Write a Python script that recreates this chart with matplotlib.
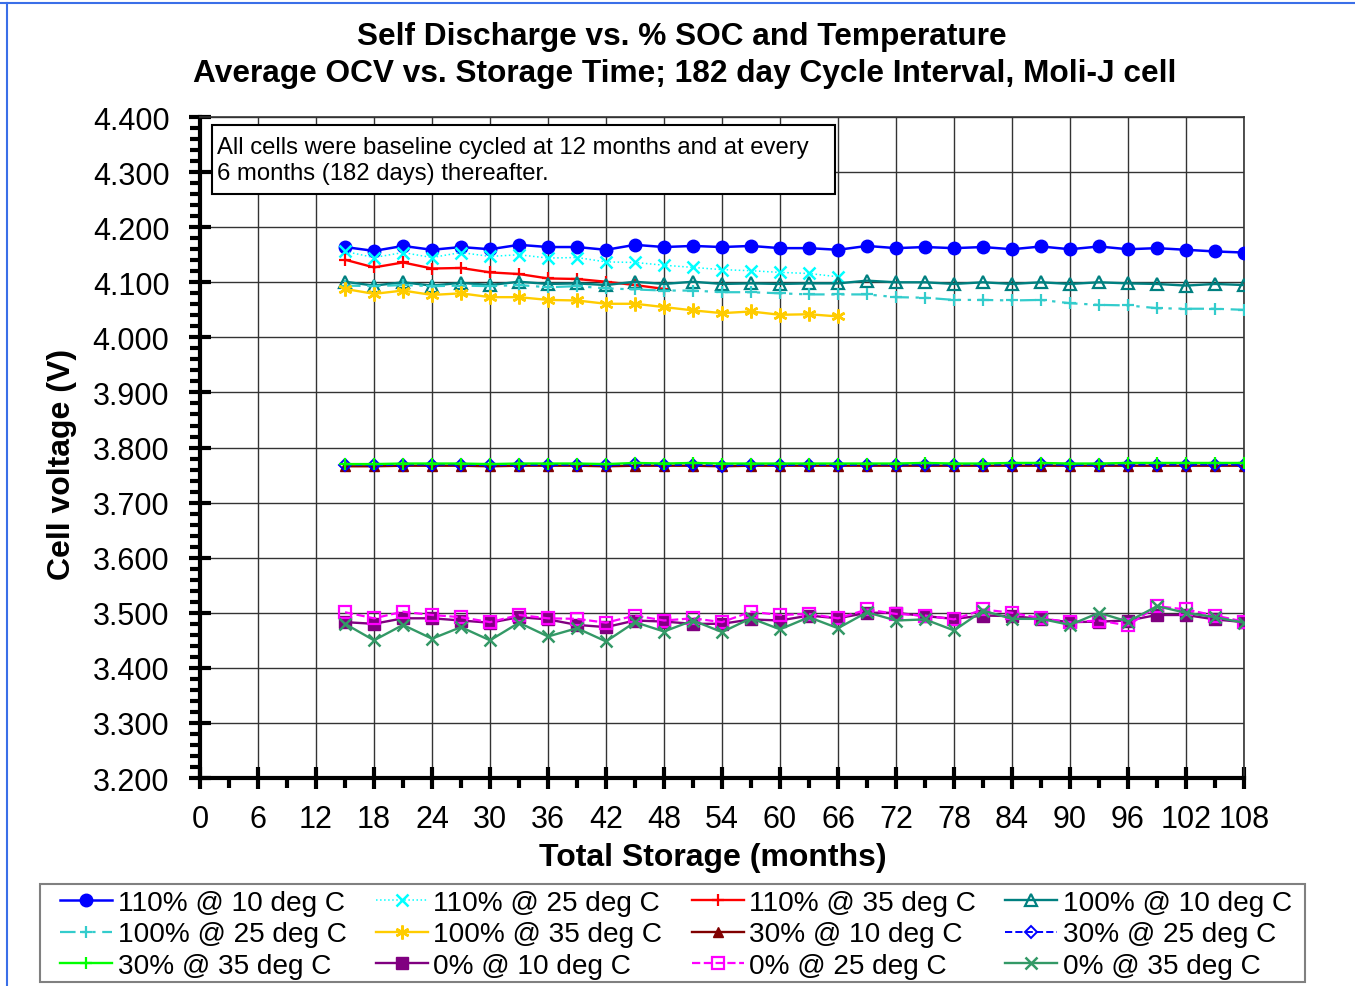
"""
Self discharge vs. % SOC and temperature — Moli-J cell OCV during storage.
"""

import matplotlib
matplotlib.use("Agg")
import matplotlib.pyplot as plt
from matplotlib.lines import Line2D
from matplotlib.patches import Rectangle
from matplotlib.ticker import MultipleLocator, FormatStrFormatter

plt.rcParams["font.family"] = ["Liberation Sans", "DejaVu Sans"]

months = [15, 18, 21, 24, 27, 30, 33, 36, 39, 42, 45, 48, 51, 54, 57, 60,
          63, 66, 69, 72, 75, 78, 81, 84, 87, 90, 93, 96, 99, 102, 105, 108]

soc110_t10 = [4.164, 4.157, 4.166, 4.159, 4.164, 4.160, 4.168, 4.164, 4.164, 4.159, 4.168,
              4.164, 4.166, 4.164, 4.166, 4.162, 4.162, 4.159, 4.166, 4.162, 4.164, 4.162,
              4.164, 4.160, 4.165, 4.160, 4.165, 4.160, 4.162, 4.159, 4.156, 4.154]
soc110_t25 = [4.156, 4.145, 4.154, 4.145, 4.154, 4.147, 4.150, 4.144, 4.145, 4.137, 4.136,
              4.131, 4.127, 4.123, 4.121, 4.118, 4.116, 4.110]
soc110_t35 = [4.141, 4.127, 4.136, 4.125, 4.126, 4.118, 4.115, 4.107, 4.106, 4.101, 4.095, 4.088]
soc100_t10 = [4.101, 4.094, 4.100, 4.094, 4.099, 4.095, 4.101, 4.097, 4.098, 4.095, 4.101,
              4.097, 4.101, 4.097, 4.098, 4.097, 4.098, 4.098, 4.103, 4.100, 4.100, 4.097,
              4.100, 4.097, 4.100, 4.097, 4.100, 4.098, 4.097, 4.094, 4.097, 4.095]
soc100_t25 = [4.094, 4.093, 4.095, 4.093, 4.094, 4.093, 4.095, 4.091, 4.093, 4.089, 4.087,
              4.085, 4.085, 4.082, 4.082, 4.080, 4.078, 4.078, 4.078, 4.073, 4.072, 4.068,
              4.068, 4.067, 4.068, 4.062, 4.059, 4.058, 4.053, 4.052, 4.052, 4.050]
soc100_t35 = [4.088, 4.079, 4.085, 4.077, 4.080, 4.073, 4.073, 4.068, 4.067, 4.061, 4.061,
              4.055, 4.049, 4.044, 4.047, 4.041, 4.042, 4.038]
soc30_t10 = [3.766, 3.766, 3.767, 3.767, 3.767, 3.766, 3.767, 3.767, 3.767, 3.766, 3.767,
             3.767, 3.767, 3.766, 3.767, 3.767, 3.767, 3.767, 3.767, 3.767, 3.767, 3.767,
             3.767, 3.767, 3.767, 3.767, 3.767, 3.767, 3.767, 3.767, 3.767, 3.767]
soc30_t25 = [3.769, 3.768, 3.769, 3.769, 3.769, 3.768, 3.769, 3.768, 3.769, 3.768, 3.770,
             3.768, 3.769, 3.767, 3.769, 3.768, 3.769, 3.768, 3.769, 3.769, 3.769, 3.769,
             3.769, 3.769, 3.770, 3.768, 3.769, 3.769, 3.769, 3.769, 3.769, 3.769]
soc30_t35 = [3.770, 3.770, 3.771, 3.771, 3.771, 3.770, 3.771, 3.771, 3.771, 3.770, 3.772,
             3.771, 3.772, 3.771, 3.771, 3.771, 3.771, 3.771, 3.771, 3.771, 3.772, 3.771,
             3.771, 3.772, 3.772, 3.771, 3.771, 3.772, 3.772, 3.772, 3.772, 3.772]
soc0_t10 = [3.483, 3.480, 3.490, 3.490, 3.486, 3.482, 3.492, 3.488, 3.478, 3.474, 3.486,
            3.484, 3.480, 3.480, 3.488, 3.486, 3.495, 3.490, 3.500, 3.500, 3.494, 3.489,
            3.495, 3.494, 3.489, 3.483, 3.484, 3.486, 3.496, 3.496, 3.488, 3.483]
soc0_t25 = [3.501, 3.490, 3.502, 3.496, 3.492, 3.483, 3.496, 3.490, 3.489, 3.482, 3.495,
            3.486, 3.490, 3.483, 3.502, 3.496, 3.498, 3.490, 3.506, 3.498, 3.495, 3.488,
            3.506, 3.500, 3.490, 3.483, 3.486, 3.477, 3.512, 3.506, 3.495, 3.484]
soc0_t35 = [3.480, 3.450, 3.478, 3.453, 3.474, 3.450, 3.482, 3.457, 3.472, 3.448, 3.483,
            3.466, 3.486, 3.465, 3.490, 3.470, 3.492, 3.472, 3.501, 3.486, 3.488, 3.468,
            3.504, 3.489, 3.489, 3.478, 3.500, 3.484, 3.512, 3.500, 3.492, 3.482]

series = [
    ("110% @ 10 deg C", soc110_t10, dict(color="#0000FF", marker="o", ms=9, lw=1.8, ls="-")),
    ("110% @ 25 deg C", soc110_t25, dict(color="#00FFFF", marker="x", ms=8, mew=1.8, lw=1.1, ls=":")),
    ("110% @ 35 deg C", soc110_t35, dict(color="#FF0000", marker="+", ms=9, mew=1.6, lw=1.7, ls="-")),
    ("100% @ 10 deg C", soc100_t10, dict(color="#008080", marker="^", ms=8, mfc="none", mew=1.6, lw=1.7, ls="-")),
    ("100% @ 25 deg C", soc100_t25, dict(color="#33CCCC", marker="+", ms=9, mew=1.6, lw=1.6,
                                         ls=(0, (7, 3, 1.5, 3, 1.5, 3)))),
    ("100% @ 35 deg C", soc100_t35, dict(color="#FFCC00", marker=(6, 2, 0), ms=10, mew=1.8, lw=1.7, ls="-")),
    ("30% @ 10 deg C", soc30_t10, dict(color="#800000", marker="^", ms=7, lw=1.7, ls="-")),
    ("30% @ 25 deg C", soc30_t25, dict(color="#0000FF", marker="D", ms=6, mfc="none", mew=1.4, lw=1.4, ls="--")),
    ("30% @ 35 deg C", soc30_t35, dict(color="#00FF00", marker="+", ms=9, mew=1.6, lw=1.7, ls="-")),
    ("0% @ 10 deg C", soc0_t10, dict(color="#800080", marker="s", ms=8, lw=1.7, ls="-")),
    ("0% @ 25 deg C", soc0_t25, dict(color="#FF00FF", marker="s", ms=8, mfc="none", mew=1.6, lw=1.6, ls="--")),
    ("0% @ 35 deg C", soc0_t35, dict(color="#339966", marker="x", ms=8, mew=1.8, lw=1.7, ls="-")),
]

fig = plt.figure(figsize=(13.55, 9.87), dpi=100)
ax = fig.add_axes([0.1476, 0.2107, 0.7705, 0.6697])

handles = []
for label, vals, style in series:
    (h,) = ax.plot(months[:len(vals)], vals, label=label, zorder=3, **style)
    handles.append(h)

ax.set_xlim(0, 108)
ax.set_ylim(3.2, 4.4)
ax.xaxis.set_major_locator(MultipleLocator(6))
ax.xaxis.set_minor_locator(MultipleLocator(3))
ax.yaxis.set_major_locator(MultipleLocator(0.1))
ax.yaxis.set_minor_locator(MultipleLocator(0.02))
ax.yaxis.set_major_formatter(FormatStrFormatter("%.3f"))
ax.grid(True, which="major", color="#333333", lw=1.0, zorder=0)

ax.tick_params(axis="both", which="major", direction="inout", length=16, width=3, labelsize=22)
ax.tick_params(axis="x", which="major", pad=10.5)
ax.tick_params(axis="y", which="major", pad=14)
ax.tick_params(axis="both", which="minor", direction="out", length=7, width=3)
ax.spines["left"].set_linewidth(3)
ax.spines["bottom"].set_linewidth(3)
for side in ("top", "right"):
    ax.spines[side].set_linewidth(1.2)
    ax.spines[side].set_color("#333333")

# note box
ax.add_patch(Rectangle((0.0115, 0.8835), 0.5967, 0.1044, transform=ax.transAxes,
                       facecolor="white", edgecolor="black", lw=1.5, zorder=5))
ax.text(0.0163, 0.9714, "All cells were baseline cycled at 12 months and at every\n"
        "6 months (182 days) thereafter.", transform=ax.transAxes, ha="left", va="top",
        fontsize=17.2, linespacing=1.26, zorder=6)

fig.text(0.503, 1 - 37 / 987, "Self Discharge vs. % SOC and Temperature", ha="center", va="center",
         fontsize=22.8, fontweight="bold")
fig.text(0.505, 1 - 74 / 987, "Average OCV vs. Storage Time; 182 day Cycle Interval, Moli-J cell",
         ha="center", va="center", fontsize=22.8, fontweight="bold")
fig.text(62 / 1355, 1 - 464 / 987, "Cell voltage (V)", rotation=90, ha="center", va="center",
         fontsize=23, fontweight="bold")
fig.text(713 / 1355, 1 - 858 / 987, "Total Storage (months)", ha="center", va="center",
         fontsize=23, fontweight="bold")

# legend frame drawn separately so the entries can sit inset like the original
fig.add_artist(Rectangle((40 / 1355, 1 - 983 / 987), 1265 / 1355, 98 / 987,
                         transform=fig.transFigure, facecolor="white", edgecolor="#808080",
                         lw=1.5, zorder=1))

# legend is filled row by row in the original
order = [r * 4 + c for c in range(4) for r in range(3)]
leg = fig.legend([handles[i] for i in order], [handles[i].get_label() for i in order],
                 loc="upper left", bbox_to_anchor=(60 / 1355, 1 - 891 / 987, 1232 / 1355, 0.0),
                 mode="expand", ncol=4, fontsize=20.2, frameon=False, borderaxespad=0,
                 borderpad=0, handlelength=1.85, handletextpad=0.2, labelspacing=0.19,
                 columnspacing=1.0)
leg.set_zorder(2)

# light blue frame edges of the original figure
fig.add_artist(Line2D([0, 1], [1 - 4 / 987, 1 - 4 / 987], color="#3A6FE8", lw=1.5,
                      transform=fig.transFigure))
fig.add_artist(Line2D([7 / 1355, 7 / 1355], [0, 1 - 4 / 987], color="#3A6FE8", lw=1.5,
                      transform=fig.transFigure))

fig.savefig("out.png", dpi=100)
